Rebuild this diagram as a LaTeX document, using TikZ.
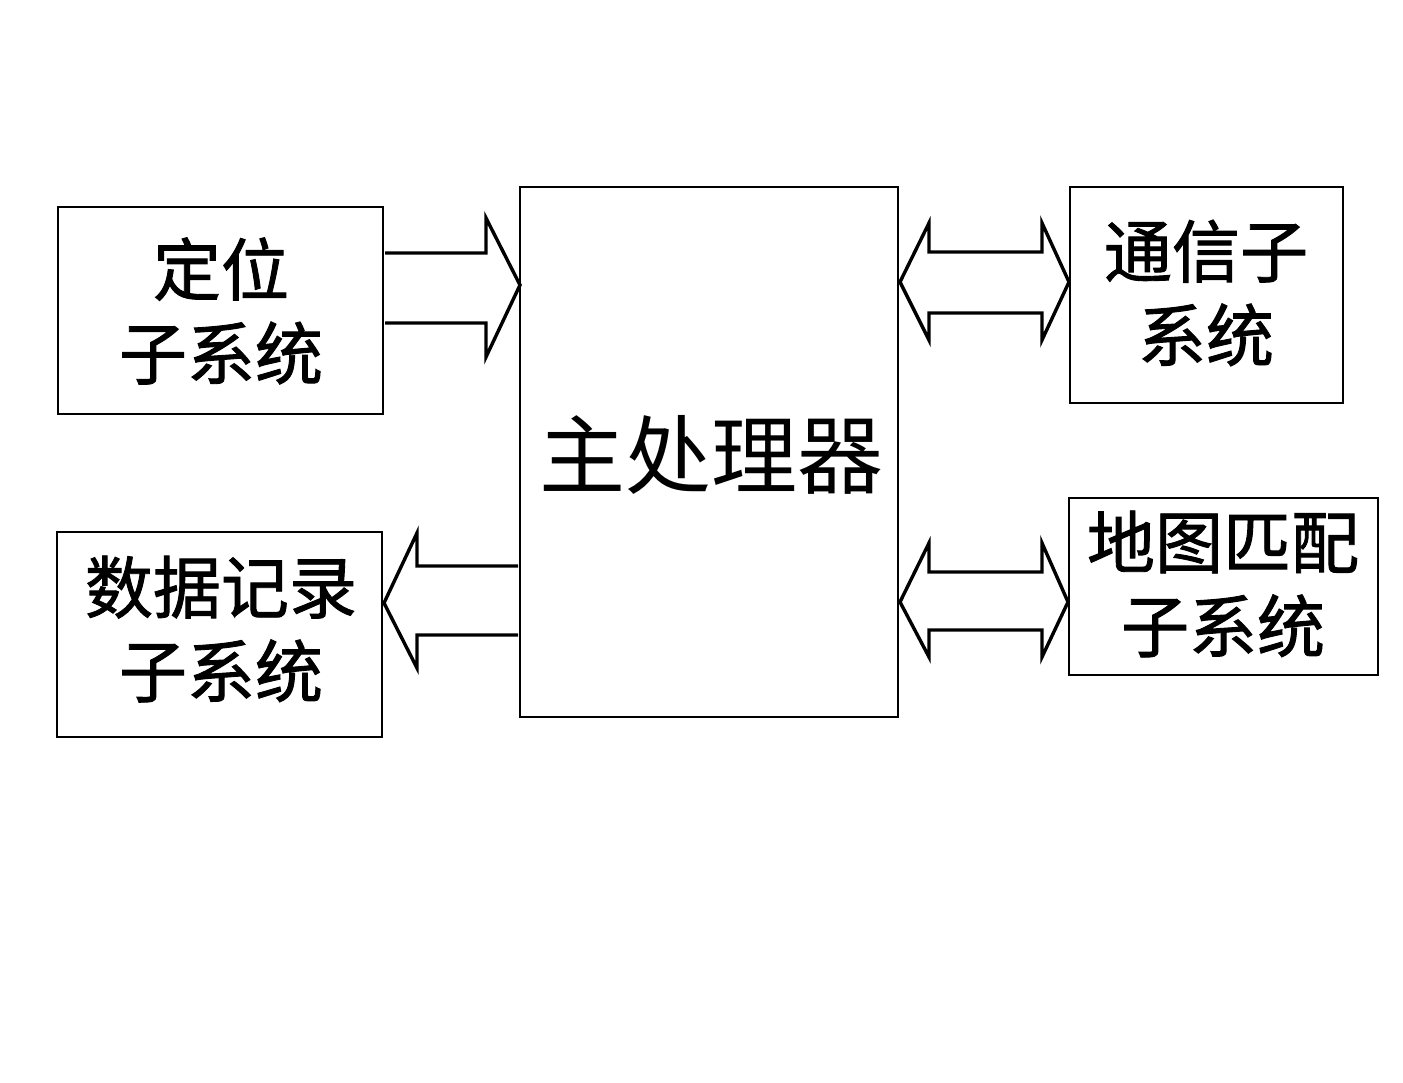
\documentclass[tikz,border=0pt]{standalone}
\usepackage{fontspec}
\newfontfamily\cjk{Noto Sans CJK SC}
\newfontfamily\cjkb[FakeBold=1.3]{Noto Sans CJK SC}
\begin{document}
\begin{tikzpicture}[x=1pt,y=-1pt,
  blk/.style={draw,line width=2.8pt},
  lbl/.style={font=\cjkb\fontsize{68}{84}\selectfont,align=center,inner sep=0pt},
  barrow/.style={draw,line width=3.4pt,line join=miter,fill=white}]
\useasboundingbox (0,0) rectangle (1403,1082);
% boxes
\draw[blk] (58,207) rectangle (383,414);
\draw[blk] (57,532) rectangle (382,737);
\draw[blk] (520,187) rectangle (898,717);
\draw[blk] (1070,187) rectangle (1343,403);
\draw[blk] (1069,498) rectangle (1378,675);
% labels
\node[lbl] (tpos) at (221,311) {定位\\子系统};
\node[lbl] (tdat) at (221,629) {数据记录\\子系统};
\node[lbl,font=\cjk\fontsize{86}{90}\selectfont] (tcpu) at (711,455) {主处理器};
\node[lbl] (tcom) at (1206,293) {通信子\\系统};
\node[lbl] (tmap) at (1223,584) {地图匹配\\子系统};
% arrows
\draw[barrow] (385,253) -- (486,253) -- (486,218) -- (520,285) -- (486,357) -- (486,323) -- (385,323);
\draw[barrow] (518,566) -- (417,566) -- (417,533) -- (384,603) -- (417,668) -- (417,635) -- (518,635);
\draw[barrow] (929,252) -- (1042,252) -- (1042,223) -- (1069,282) -- (1042,340) -- (1042,313) -- (929,313) -- (929,340) -- (900,282) -- (929,223) -- cycle;
\draw[barrow] (929,572) -- (1042,572) -- (1042,543) -- (1068,602) -- (1042,657) -- (1042,630) -- (929,630) -- (929,657) -- (900,602) -- (929,543) -- cycle;
\end{tikzpicture}
\end{document}
